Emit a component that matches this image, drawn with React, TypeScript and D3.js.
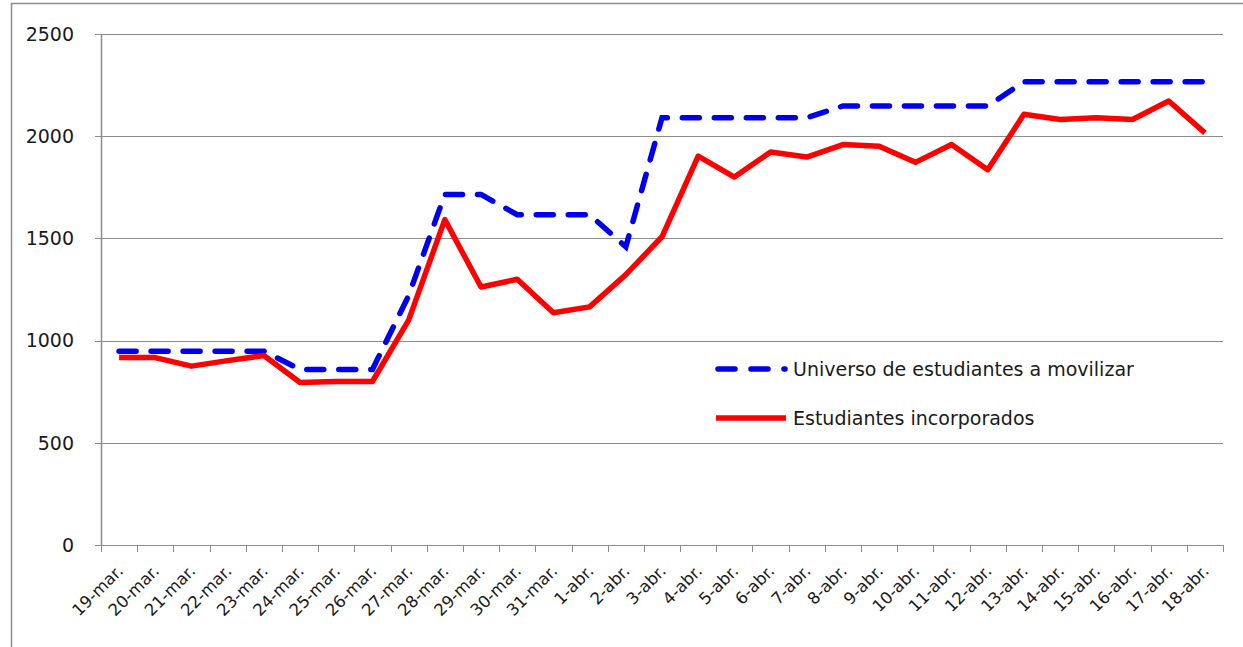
import * as d3 from 'd3';
import { useEffect, useRef } from 'react';

const dates = [
  '19-mar.', '20-mar.', '21-mar.', '22-mar.', '23-mar.', '24-mar.', '25-mar.', '26-mar.',
  '27-mar.', '28-mar.', '29-mar.', '30-mar.', '31-mar.', '1-abr.', '2-abr.', '3-abr.',
  '4-abr.', '5-abr.', '6-abr.', '7-abr.', '8-abr.', '9-abr.', '10-abr.', '11-abr.',
  '12-abr.', '13-abr.', '14-abr.', '15-abr.', '16-abr.', '17-abr.', '18-abr.',
];

// Universo de estudiantes a movilizar
const universo = [
  948, 948, 948, 948, 948, 859, 859, 859, 1220, 1715, 1715, 1616, 1616, 1616, 1459, 2090,
  2090, 2090, 2090, 2090, 2148, 2148, 2148, 2148, 2148, 2266, 2266, 2266, 2266, 2266, 2266,
];

// Estudiantes incorporados
const incorporados = [
  917, 917, 875, 902, 927, 795, 800, 800, 1100, 1592, 1262, 1300, 1136, 1165, 1323, 1508,
  1902, 1800, 1923, 1898, 1959, 1951, 1872, 1959, 1836, 2107, 2082, 2090, 2082, 2172, 2016,
];

const yTicks = [0, 500, 1000, 1500, 2000, 2500];

const seriesNames = ['Universo de estudiantes a movilizar', 'Estudiantes incorporados'];

export default function App() {
  const svgRef = useRef<SVGSVGElement>(null);

  const width = 1243;
  const height = 647;
  const left = 101;
  const right = 1223;
  const top = 34;
  const bottom = 545;

  useEffect(() => {
    const svg = d3.select(svgRef.current);
    svg.selectAll('*').remove();

    const font = '"DejaVu Sans", sans-serif';
    const ink = '#1a1a1a';
    const blue = '#0000ee';
    const red = '#ff0000';

    // outer frame (only top and left visible)
    svg.append('path')
      .attr('d', `M11.5,${height} V3.5 H${width}`)
      .attr('fill', 'none')
      .attr('stroke', '#8c8c8c')
      .attr('stroke-width', 1.5);

    const x = d3.scalePoint<string>().domain(dates).range([left, right]).padding(0.5);
    const y = d3.scaleLinear().domain([0, 2500]).range([bottom, top]);
    const step = x.step();

    // gridlines + y labels
    const grid = svg.append('g');
    grid.selectAll('line')
      .data(yTicks)
      .enter()
      .append('line')
      .attr('x1', left - 6)
      .attr('x2', right)
      .attr('y1', d => Math.round(y(d)) + 0.5)
      .attr('y2', d => Math.round(y(d)) + 0.5)
      .attr('stroke', '#8c8c8c')
      .attr('stroke-width', 1);

    grid.selectAll('text')
      .data(yTicks)
      .enter()
      .append('text')
      .attr('x', 74)
      .attr('y', d => y(d))
      .attr('dy', '0.36em')
      .attr('text-anchor', 'end')
      .attr('font-family', font)
      .attr('font-size', 19)
      .attr('fill', ink)
      .text(d => d);

    // y axis line
    svg.append('line')
      .attr('x1', left + 0.5).attr('x2', left + 0.5)
      .attr('y1', top).attr('y2', bottom + 1)
      .attr('stroke', '#8c8c8c')
      .attr('stroke-width', 1.5);

    // x axis ticks at category boundaries
    const boundaries = d3.range(dates.length + 1).map(i => left + i * step);
    svg.append('g').selectAll('line')
      .data(boundaries)
      .enter()
      .append('line')
      .attr('x1', d => Math.round(d) + 0.5)
      .attr('x2', d => Math.round(d) + 0.5)
      .attr('y1', bottom)
      .attr('y2', bottom + 7)
      .attr('stroke', '#8c8c8c')
      .attr('stroke-width', 1);

    // x labels, rotated
    svg.append('g').selectAll('text')
      .data(dates)
      .enter()
      .append('text')
      .attr('transform', d => `translate(${(x(d) as number) + 5},${bottom + 27}) rotate(-45)`)
      .attr('text-anchor', 'end')
      .attr('font-family', font)
      .attr('font-size', 16.5)
      .attr('fill', ink)
      .text(d => d);

    const line = d3.line<number>()
      .x((_, i) => x(dates[i]) as number)
      .y(d => y(d));

    svg.append('path')
      .datum(universo)
      .attr('d', line)
      .attr('fill', 'none')
      .attr('stroke', blue)
      .attr('stroke-width', 5.5)
      .attr('stroke-dasharray', '17,15')
      .attr('stroke-linecap', 'round');

    svg.append('path')
      .datum(incorporados)
      .attr('d', line)
      .attr('fill', 'none')
      .attr('stroke', red)
      .attr('stroke-width', 5.5)
      .attr('stroke-linejoin', 'round');

    // legend
    const legend = svg.append('g');
    const rows = [369, 418];

    legend.append('line')
      .attr('x1', 718).attr('x2', 785)
      .attr('y1', rows[0]).attr('y2', rows[0])
      .attr('stroke', blue)
      .attr('stroke-width', 5.5)
      .attr('stroke-dasharray', '17,16')
      .attr('stroke-linecap', 'round');

    legend.append('line')
      .attr('x1', 716).attr('x2', 786)
      .attr('y1', rows[1]).attr('y2', rows[1])
      .attr('stroke', red)
      .attr('stroke-width', 5.5);

    legend.selectAll('text')
      .data(seriesNames)
      .enter()
      .append('text')
      .attr('x', 793)
      .attr('y', (_, i) => rows[i])
      .attr('dy', '0.36em')
      .attr('font-family', font)
      .attr('font-size', 19)
      .attr('fill', ink)
      .text(d => d);

    return () => {};
  }, []);

  return (
    <>
      <style>{'body{margin:0}'}</style>
      <svg ref={svgRef} width={width} height={height} style={{ display: 'block', background: '#fff' }} />
    </>
  );
}
